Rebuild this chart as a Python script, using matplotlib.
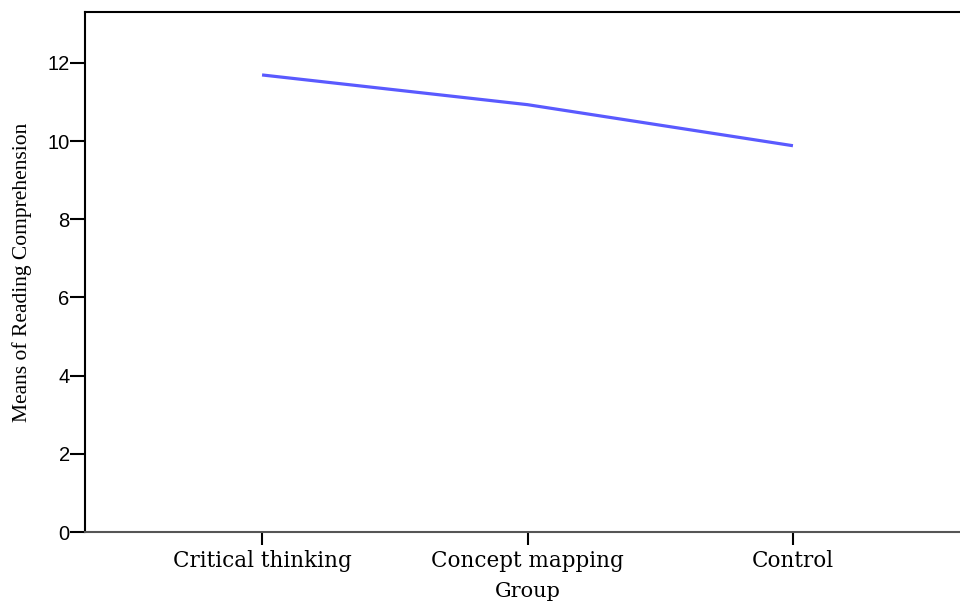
import matplotlib
matplotlib.use("Agg")
import matplotlib.pyplot as plt

groups = ["Critical thinking", "Concept mapping", "Control"]
means = [11.69, 10.93, 9.88]
y_ticks = [0, 2, 4, 6, 8, 10, 12]

fig = plt.figure(figsize=(9.6, 6.05), dpi=100)
# axes runs slightly past the right edge, as in the original export
ax = fig.add_axes([85 / 960, 73 / 605, 885 / 960, 520 / 605])

x = range(len(groups))
ax.plot(x, means, color="#5a5aff", linewidth=2.3, solid_capstyle="butt")

ax.set_xlim(-0.667, 2.667)
ax.set_ylim(0, 13.3)
ax.set_yticks(y_ticks)
ax.set_xticks(list(x))
ax.set_xticklabels(groups, family="DejaVu Serif", fontsize=15.5)
for lab in ax.get_yticklabels():
    lab.set_family("Liberation Sans")
    lab.set_fontsize(14.5)

ax.tick_params(axis="y", direction="out", length=11, width=1.5, color="black", pad=0)
ax.tick_params(axis="x", direction="out", length=9, width=1.5, color="black", pad=4)
for s in ax.spines.values():
    s.set_linewidth(1.5)
    s.set_color("black")
ax.spines["bottom"].set_color("#555555")

ax.set_xlabel("Group", family="DejaVu Serif", fontsize=15, labelpad=7.5)
ax.set_ylabel("Means of Reading Comprehension", family="Liberation Serif", fontsize=15.5, labelpad=11)

plt.savefig("out.png", dpi=100)
